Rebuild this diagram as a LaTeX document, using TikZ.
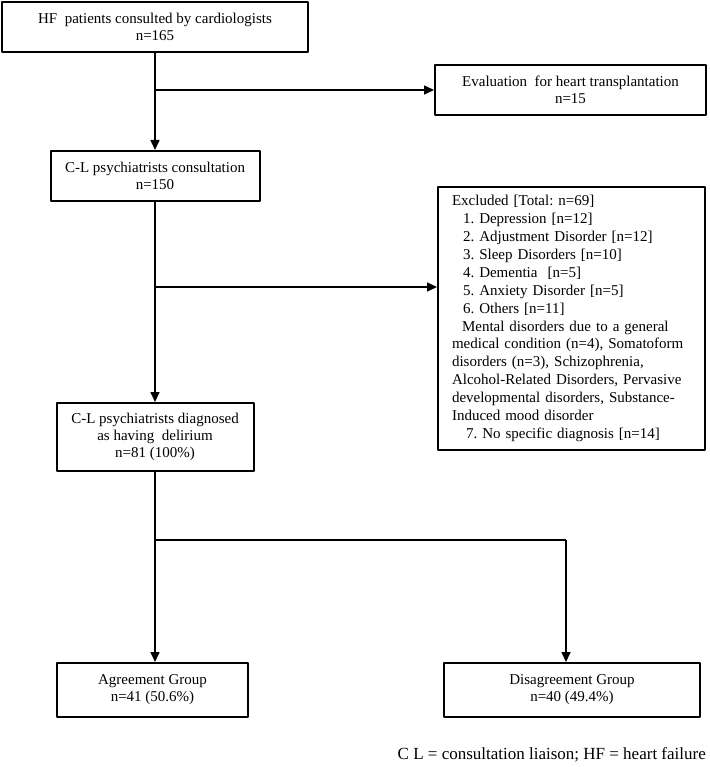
\documentclass[tikz,border=0pt]{standalone}
\usepackage{fontspec}
\setmainfont{Liberation Serif}
\usetikzlibrary{arrows.meta}
\frenchspacing

\begin{document}
\begin{tikzpicture}[x=1pt, y=-1pt, line join=round, font=\fontsize{15}{17}\selectfont,
		>={Triangle[width=9pt,length=10pt]},
		box/.style={draw, line width=2pt, align=center, inner sep=0pt},
		flow/.style={->, line width=1.6pt}]
	\useasboundingbox (0,0) rectangle (709,767);
	% boxes
	\node[box, minimum width=306, minimum height=50] (hf) at (155,27) {HF\ \ patients consulted by cardiologists\\ n=165};
	\node[box, minimum width=271, minimum height=50] (eval) at (570.5,90) {Evaluation\ \ for heart transplantation\\ n=15};
	\node[box, minimum width=209, minimum height=50] (cl) at (155,176) {C-L psychiatrists consultation\\ n=150};
	\node[box, minimum width=267, minimum height=263, align=left, text width=239,
		font=\fontsize{15}{17.9}\selectfont] (excl) at (571.5,318.5) {Excluded [Total: n=69]\\
		\hspace*{11pt}1. Depression [n=12]\\
		\hspace*{11pt}2. Adjustment Disorder [n=12]\\
		\hspace*{11pt}3. Sleep Disorders [n=10]\\
		\hspace*{11pt}4. Dementia\ \ [n=5]\\
		\hspace*{11pt}5. Anxiety Disorder [n=5]\\
		\hspace*{11pt}6. Others [n=11]\\
		\hspace*{10pt}Mental disorders due to a general\\
		medical condition (n=4), Somatoform\\
		disorders (n=3), Schizophrenia,\\
		Alcohol-Related Disorders, Pervasive\\
		developmental disorders, Substance-\\
		Induced mood disorder\\
		\hspace*{14pt}7. No specific diagnosis [n=14]};
	\node[box, minimum width=197, minimum height=68] (del) at (155,437) {C-L psychiatrists diagnosed\\ as having\ \ delirium\\ n=81 (100\%)};
	\node[box, minimum width=191, minimum height=54] (agree) at (152.5,690) {Agreement Group\\ n=41 (50.6\%)};
	\node[box, minimum width=256, minimum height=54] (dis) at (572,690) {Disagreement Group\\ n=40 (49.4\%)};
	\node[anchor=east, inner sep=0pt, font=\fontsize{17}{20}\selectfont] (note) at (706,755) {C L = consultation liaison; HF = heart failure};
	% connectors
	\coordinate (b1) at (155,90);
	\coordinate (b2) at (155,287);
	\coordinate (b3) at (155,540);
	\coordinate (b4) at (566,540);
	\draw[flow] (hf) -- (cl);
	\draw[flow] (b1) -- (eval.west);
	\draw[flow] (cl) -- (del);
	\draw[flow] (b2) -- (b2 -| excl.west);
	\draw[line width=1.6pt] (del) -- (b3) -- (b4);
	\draw[flow] (b3) -- (b3 |- agree.north);
	\draw[flow] (b4) -- (b4 |- dis.north);
\end{tikzpicture}
\end{document}
